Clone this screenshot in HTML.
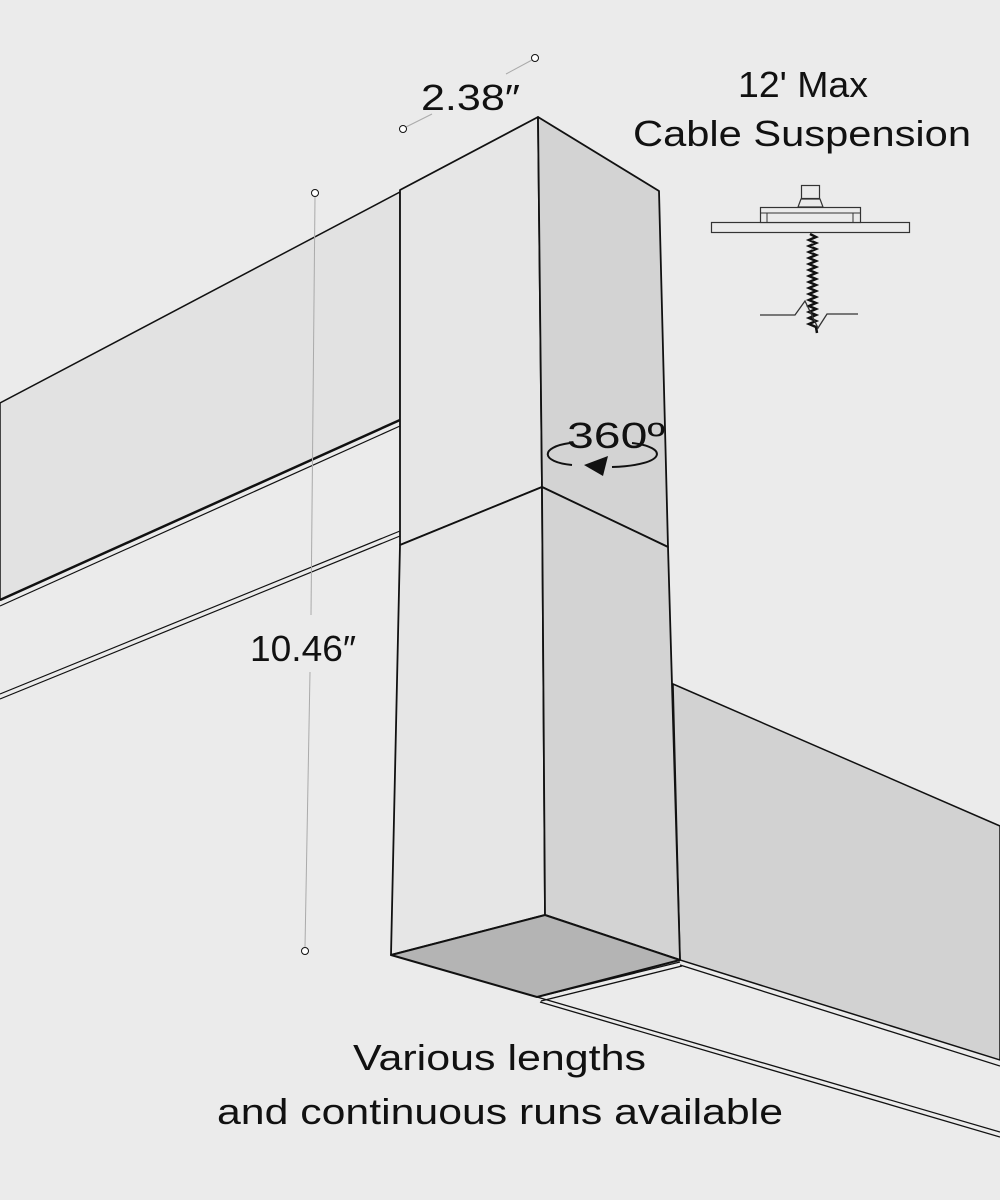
<!DOCTYPE html>
<html><head><meta charset="utf-8"><style>
html,body{margin:0;padding:0;background:#ebebeb;}
svg{display:block;}
text{font-family:"Liberation Sans",sans-serif;fill:#111;}
</style></head><body>
<svg width="1000" height="1200" viewBox="0 0 1000 1200" xmlns="http://www.w3.org/2000/svg">
<rect width="1000" height="1200" fill="#ebebeb"/>
<polygon points="0,403 400,192 400,420 0,600" fill="#e2e2e2" stroke="#111" stroke-width="1.5"/>
<line x1="0" y1="600" x2="400" y2="420" stroke="#111" stroke-width="2.5"/>
<line x1="0" y1="606" x2="400" y2="426" stroke="#111" stroke-width="1.2"/>
<line x1="0" y1="694" x2="400" y2="531" stroke="#111" stroke-width="1.2"/>
<line x1="0" y1="699" x2="400" y2="536" stroke="#111" stroke-width="1.2"/>
<line x1="537" y1="997" x2="1000" y2="1132" stroke="#111" stroke-width="1.3"/>
<line x1="540" y1="1002" x2="1000" y2="1137" stroke="#111" stroke-width="1.3"/>
<line x1="537" y1="997" x2="680" y2="962" stroke="#111" stroke-width="1.3"/>
<line x1="541" y1="1001" x2="682" y2="966" stroke="#111" stroke-width="1.3"/>
<polygon points="673,684 1000,826 1000,1060 680,960" fill="#d2d2d2" stroke="#111" stroke-width="1.5"/>
<line x1="680" y1="965" x2="1000" y2="1066" stroke="#111" stroke-width="1.3"/>
<polygon points="400,190 538,117 542,487 400,545" fill="#e6e6e6" stroke="#111" stroke-width="1.8" stroke-linejoin="round"/>
<polygon points="538,117 659,191 668,547 542,487" fill="#d3d3d3" stroke="#111" stroke-width="1.8" stroke-linejoin="round"/>
<polygon points="400,545 542,487 545,915 391,955" fill="#e6e6e6" stroke="#111" stroke-width="1.8" stroke-linejoin="round"/>
<polygon points="542,487 668,547 680,960 545,915" fill="#d3d3d3" stroke="#111" stroke-width="1.8" stroke-linejoin="round"/>
<polygon points="391,955 545,915 680,960 537,997" fill="#b4b4b4" stroke="#111" stroke-width="2" stroke-linejoin="round"/>
<line x1="406" y1="127" x2="432" y2="114" stroke="#aaa" stroke-width="1"/>
<line x1="506" y1="74" x2="532" y2="60" stroke="#aaa" stroke-width="1"/>
<circle cx="403" cy="129" r="3.5" fill="#fff" stroke="#111" stroke-width="1"/>
<circle cx="535" cy="58" r="3.5" fill="#fff" stroke="#111" stroke-width="1"/>
<text x="421" y="110" font-size="36" textLength="99" lengthAdjust="spacingAndGlyphs">2.38″</text>
<line x1="315" y1="197" x2="311" y2="615" stroke="#aaa" stroke-width="1"/>
<line x1="310" y1="672" x2="305" y2="947" stroke="#aaa" stroke-width="1"/>
<circle cx="315" cy="193" r="3.5" fill="#fff" stroke="#111" stroke-width="1"/>
<circle cx="305" cy="951" r="3.5" fill="#fff" stroke="#111" stroke-width="1"/>
<text x="250" y="661" font-size="36" textLength="106" lengthAdjust="spacingAndGlyphs">10.46″</text>
<text x="567" y="448" font-size="36" textLength="98" lengthAdjust="spacingAndGlyphs">360º</text>
<path d="M570,443 C540,447 540,462 572,465 M632,443 C668,447 668,465 612,467" fill="none" stroke="#111" stroke-width="2"/>
<path d="M584,465 L608,456 L603,476 Z" fill="#111"/>
<text x="738" y="97" font-size="36" textLength="130" lengthAdjust="spacingAndGlyphs">12' Max</text>
<text x="633" y="146" font-size="36" textLength="338" lengthAdjust="spacingAndGlyphs">Cable Suspension</text>
<rect x="711.5" y="222.5" width="198" height="10" fill="#ebebeb" stroke="#333" stroke-width="1.2"/>
<rect x="760.5" y="207.5" width="100" height="15" fill="#ebebeb" stroke="#333" stroke-width="1.2"/>
<line x1="760" y1="213" x2="861" y2="213" stroke="#333" stroke-width="1"/>
<line x1="767" y1="213" x2="767" y2="222" stroke="#333" stroke-width="1"/>
<line x1="853" y1="213" x2="853" y2="222" stroke="#333" stroke-width="1"/>
<rect x="801.5" y="185.5" width="18" height="13" fill="#ebebeb" stroke="#333" stroke-width="1.2"/>
<polygon points="801,199 820,199 823,207 798,207" fill="#ebebeb" stroke="#333" stroke-width="1.2"/>
<path d="M810,234 l6,3 -7,3 7,3 -7,3 7,3 -7,3 7,3 -7,3 7,3 -7,3 7,3 -7,3 7,3 -7,3 7,3 -7,3 7,3 -7,3 7,3 -7,3 7,3 -7,3 7,3 -7,3 7,3 -7,3 7,3 -7,3 7,3 -7,3 7,3 1,6" fill="none" stroke="#111" stroke-width="2.5"/>
<polyline points="760,315 795,315 805,301 818,328 827,314 858,314" fill="none" stroke="#333" stroke-width="1.3"/>
<text x="353" y="1070" font-size="36" textLength="293" lengthAdjust="spacingAndGlyphs">Various lengths</text>
<text x="217" y="1124" font-size="36" textLength="566" lengthAdjust="spacingAndGlyphs">and continuous runs available</text>
</svg>
</body></html>
